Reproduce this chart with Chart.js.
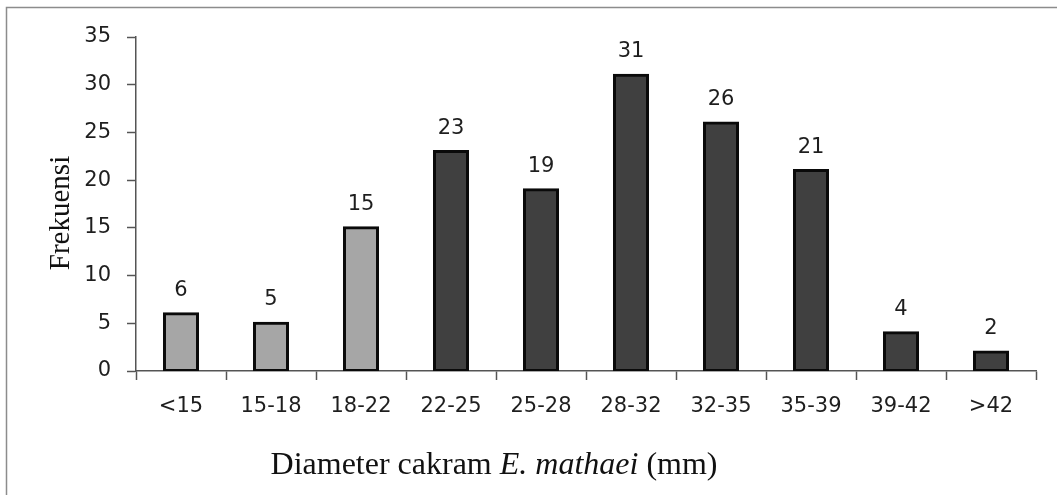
<!DOCTYPE html>
<html>
<head>
<meta charset="utf-8">
<script src="https://cdn.jsdelivr.net/npm/chart.js@4/dist/chart.umd.min.js"></script>
<style>
  html, body { margin: 0; padding: 0; background: #fff; }
  #wrap { width: 1057px; height: 495px; position: relative; }
</style>
</head>
<body>
<div id="wrap"><canvas id="c" width="1057" height="495"></canvas></div>
<script>
// Size classes of disc diameter and their frequencies
const categories = ['<15', '15-18', '18-22', '22-25', '25-28', '28-32', '32-35', '35-39', '39-42', '>42'];
const frequencies = [6, 5, 15, 23, 19, 31, 26, 21, 4, 2];
const yTicks = [0, 5, 10, 15, 20, 25, 30, 35];
// First three classes are shaded light, the rest dark
const lightClasses = ['<15', '15-18', '18-22'];

const LIGHT = '#a6a6a6';
const DARK = '#404040';
const SANS = '"DejaVu Sans", Verdana, sans-serif';
const SERIF = '"Liberation Serif", "Times New Roman", serif';

const barColors = categories.map(c => lightClasses.includes(c) ? LIGHT : DARK);

// Frame, value labels and axis titles
const decorations = {
  id: 'decorations',
  beforeDraw(chart) {
    const ctx = chart.ctx;
    ctx.save();
    ctx.strokeStyle = '#8c8c8c';
    ctx.lineWidth = 1.5;
    ctx.beginPath();
    ctx.moveTo(6.5, 495);
    ctx.lineTo(6.5, 7.5);
    ctx.lineTo(1057, 7.5);
    ctx.stroke();
    ctx.restore();
  },
  afterDatasetsDraw(chart) {
    const ctx = chart.ctx;
    const meta = chart.getDatasetMeta(0);
    const vals = chart.data.datasets[0].data;
    ctx.save();
    ctx.font = '21px ' + SANS;
    ctx.fillStyle = '#1e1e1e';
    ctx.textAlign = 'center';
    ctx.textBaseline = 'alphabetic';
    meta.data.forEach((bar, i) => {
      ctx.fillText(String(vals[i]), bar.x, bar.y - 18);
    });

    // y-axis title
    ctx.font = '29px ' + SERIF;
    ctx.fillStyle = '#111';
    ctx.save();
    ctx.translate(69, 213);
    ctx.rotate(-Math.PI / 2);
    ctx.textAlign = 'center';
    ctx.fillText('Frekuensi', 0, 0);
    ctx.restore();

    // x-axis title with italic species name
    const parts = [
      { t: 'Diameter cakram ', f: '32px ' + SERIF },
      { t: 'E. mathaei', f: 'italic 32px ' + SERIF },
      { t: ' (mm)', f: '32px ' + SERIF }
    ];
    let total = 0;
    parts.forEach(p => { ctx.font = p.f; p.w = ctx.measureText(p.t).width; total += p.w; });
    let x = 494 - total / 2;
    ctx.textAlign = 'left';
    parts.forEach(p => { ctx.font = p.f; ctx.fillText(p.t, x, 474); x += p.w; });
    ctx.restore();
  }
};

new Chart(document.getElementById('c'), {
  type: 'bar',
  data: {
    labels: categories,
    datasets: [{
      data: frequencies,
      backgroundColor: barColors,
      borderColor: '#0a0a0a',
      borderWidth: 3,
      borderSkipped: false,
      inflateAmount: 1.5,
      barPercentage: 0.367,
      categoryPercentage: 1.0
    }]
  },
  options: {
    responsive: false,
    animation: false,
    devicePixelRatio: 1,
    layout: { padding: { left: 0, top: 37, right: 21, bottom: 0 } },
    plugins: { legend: { display: false }, tooltip: { enabled: false } },
    scales: {
      x: {
        offset: true,
        grid: {
          offset: true,
          drawOnChartArea: false,
          drawTicks: true,
          tickLength: 9,
          tickColor: '#555',
          tickWidth: 1.5
        },
        border: { display: true, color: '#555', width: 1.5 },
        ticks: { font: { family: SANS, size: 21 }, color: '#1e1e1e', padding: 14, maxRotation: 0, autoSkip: false },
        afterFit(s) { s.height = 495 - 371; }
      },
      y: {
        min: 0,
        max: 35,
        afterBuildTicks(s) { s.ticks = yTicks.map(v => ({ value: v })); },
        grid: {
          drawOnChartArea: false,
          drawTicks: true,
          tickLength: 9,
          tickColor: '#555',
          tickWidth: 1.5
        },
        border: { display: true, color: '#555', width: 1.5 },
        ticks: { font: { family: SANS, size: 21 }, color: '#1e1e1e', padding: 16 },
        afterFit(s) { s.width = 136; }
      }
    }
  },
  plugins: [decorations]
});
</script>
</body>
</html>
